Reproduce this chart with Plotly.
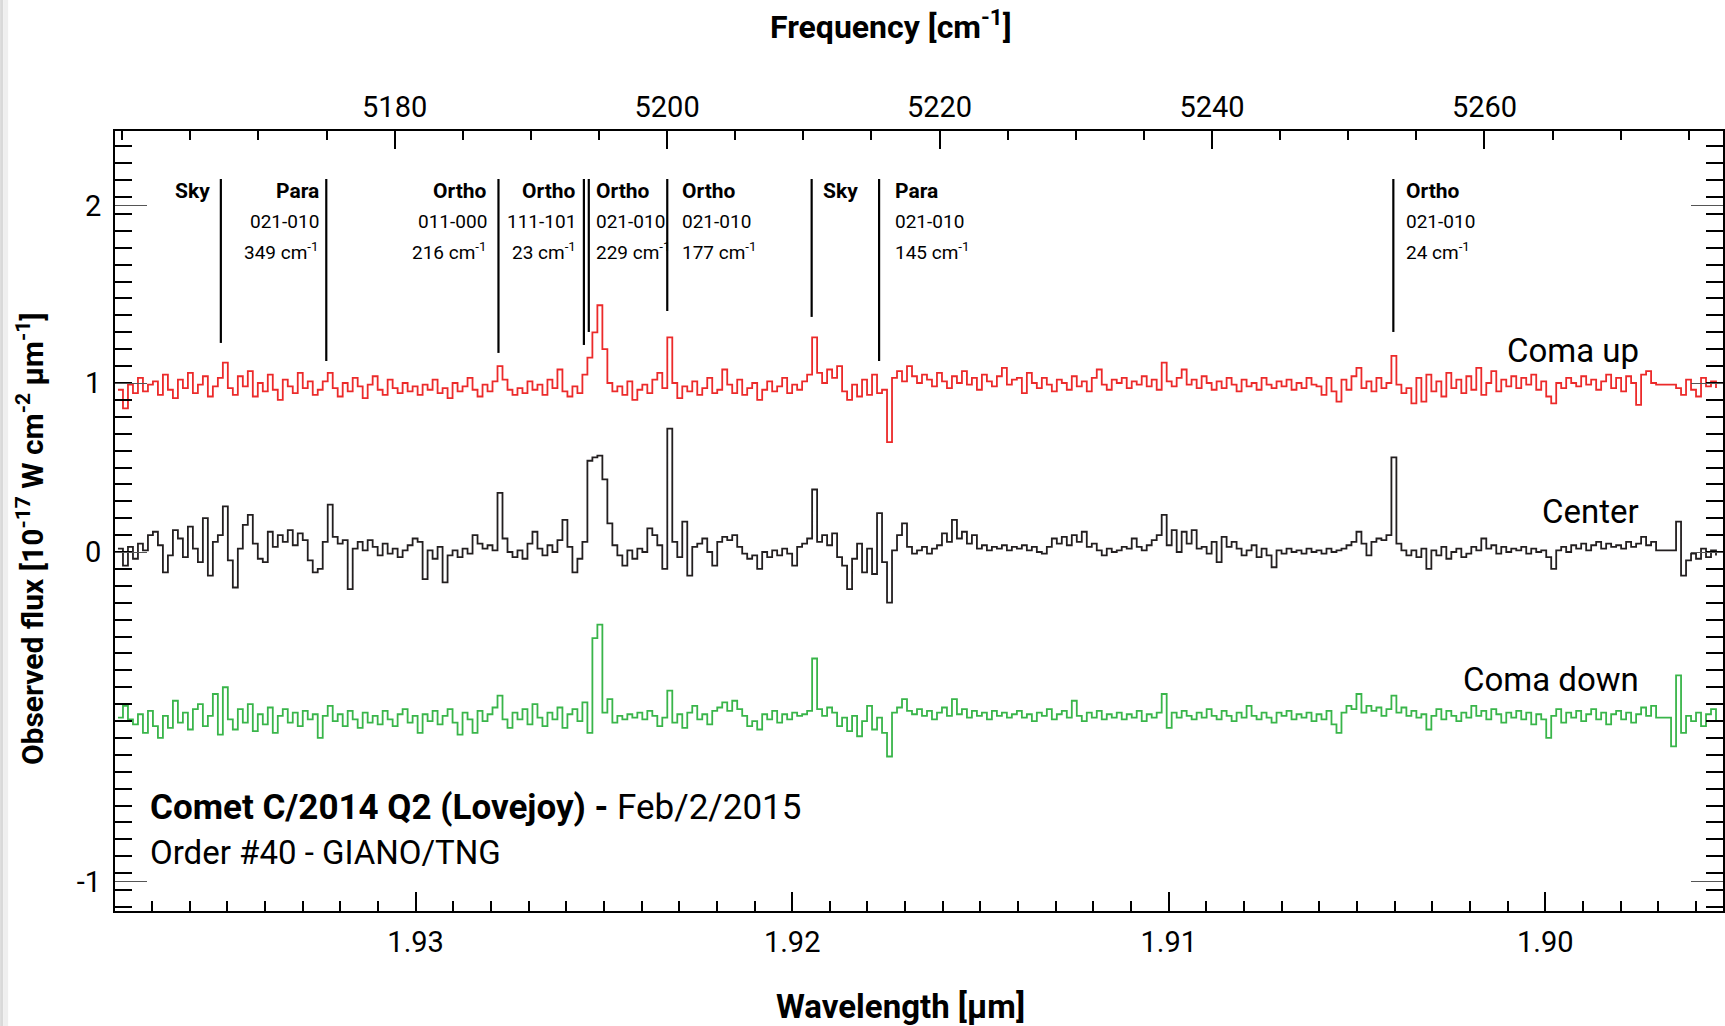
import numpy as np
import plotly.graph_objects as go

# ---------------- data ----------------
# spectra sampling grid (wavelength in micron, uniform pixel step)
wl_start = 1.937905
wl_step = -0.000132626

coma_up = [
    0.96, 0.85, 0.99, 0.94, 1.03, 0.95, 0.99, 1.01, 0.93, 1.05, 0.96, 0.91, 1.02, 0.97, 1.06, 0.94, 0.99, 1.04, 0.92, 0.98,
    1.03, 1.12, 0.97, 0.93, 1.04, 0.98, 1.07, 0.92, 1.00, 0.95, 1.05, 0.96, 0.90, 1.02, 0.98, 0.94, 1.06, 0.97, 1.01, 0.93,
    0.96, 1.01, 1.06, 0.97, 0.92, 1.00, 0.95, 1.03, 0.98, 0.91, 0.99, 1.04, 0.96, 0.93, 1.02, 0.97, 0.94, 1.00, 0.95, 0.98,
    0.93, 0.99, 0.96, 1.02, 0.94, 0.97, 0.91, 1.00, 0.95, 0.98, 1.03, 0.96, 0.92, 0.99, 0.95, 1.01, 1.10, 1.02, 0.96, 0.93,
    0.97, 0.94, 1.01, 0.96, 0.99, 0.93, 1.02, 0.97, 1.08, 0.95, 0.92, 0.98, 0.94, 1.05, 1.15, 1.30, 1.46, 1.20, 1.00, 0.95,
    0.98, 0.93, 1.01, 0.90, 0.96, 0.99, 0.94, 1.02, 1.06, 0.97, 1.27, 1.00, 0.91, 0.98, 0.95, 1.01, 0.93, 0.97, 1.03, 0.94,
    0.96, 1.08, 0.99, 0.94, 1.02, 0.93, 0.97, 1.00, 0.90, 0.96, 1.01, 0.95, 0.98, 1.03, 0.94, 0.99, 0.96, 1.01, 1.05, 1.27,
    1.06, 1.00, 1.08, 1.03, 1.10, 0.95, 0.90, 0.99, 0.92, 1.02, 0.93, 1.05, 0.94, 0.96, 0.65, 1.03, 1.07, 1.01, 1.10, 1.04,
    1.00, 1.05, 1.02, 0.98, 1.06, 1.01, 0.97, 1.04, 1.00, 1.07, 0.99, 1.03, 0.96, 1.05, 1.01, 0.98, 1.04, 1.09, 0.99, 1.02,
    1.03, 0.94, 1.06, 1.00, 0.97, 1.03, 0.99, 0.95, 1.02, 1.00, 0.96, 1.04, 0.98, 1.01, 0.95, 1.03, 1.08, 0.99, 0.96, 1.02,
    1.00, 1.03, 0.97, 1.01, 0.99, 1.04, 0.98, 1.02, 0.96, 1.12, 1.01, 0.98, 1.03, 1.08, 0.99, 1.02, 0.97, 1.04, 1.00, 0.96,
    1.01, 0.97, 1.03, 0.99, 0.95, 1.02, 0.98, 1.00, 0.96, 1.03, 0.99, 0.97, 1.01, 0.98, 1.02, 0.96, 1.00, 0.97, 1.03, 0.99,
    0.98, 0.93, 1.03, 0.95, 0.89, 1.02, 0.96, 1.04, 1.09, 0.97, 1.01, 0.95, 1.03, 0.97, 1.00, 1.16, 0.99, 0.94, 0.97, 0.88,
    1.03, 0.89, 1.05, 0.95, 1.01, 0.92, 1.06, 0.97, 1.02, 0.94, 1.04, 0.96, 1.09, 0.93, 1.00, 1.07, 0.95, 1.02, 0.98, 1.04,
    0.97, 1.03, 0.99, 1.05, 0.96, 1.01, 0.92, 0.88, 1.00, 0.97, 1.03, 1.00, 0.98, 1.04, 0.99, 1.02, 0.96, 1.01, 1.05, 0.97,
    1.03, 0.95, 1.04, 1.00, 0.87, 1.05, 1.07, 1.00, 0.99, 0.99, 0.99, 0.99, 0.97, 0.93, 1.02, 0.96, 0.92, 1.03, 0.98, 1.01, 0.97,
]

center = [
    0.02, -0.08, 0.03, -0.04, 0.05, 0.01, 0.10, 0.12, 0.04, -0.12, -0.02, 0.13, 0.08, -0.03, 0.15, 0.02, -0.06, 0.20, -0.14, 0.06,
    0.10, 0.27, -0.05, -0.21, 0.02, 0.16, 0.22, 0.05, -0.04, -0.06, 0.12, 0.03, 0.10, 0.06, 0.13, 0.04, 0.11, 0.07, -0.05, -0.12,
    -0.10, 0.06, 0.28, 0.09, 0.05, 0.07, -0.22, 0.02, 0.06, 0.01, 0.07, 0.03, -0.02, 0.05, -0.01, 0.02, -0.03, 0.01, 0.04, 0.08,
    0.06, -0.16, 0.01, -0.04, 0.03, -0.18, -0.02, 0.01, -0.03, 0.02, -0.01, 0.10, 0.05, 0.02, 0.04, 0.01, 0.35, 0.08, 0.00, -0.03,
    0.01, -0.04, 0.05, 0.12, 0.02, -0.02, 0.04, 0.00, 0.07, 0.19, 0.03, -0.12, -0.04, 0.06, 0.54, 0.56, 0.57, 0.43, 0.17, 0.04,
    -0.02, -0.08, 0.01, -0.04, 0.02, 0.00, 0.14, 0.10, 0.04, -0.10, 0.73, 0.06, -0.03, 0.18, -0.14, 0.03, 0.05, 0.08, 0.00, -0.08,
    0.06, 0.09, 0.07, 0.10, 0.03, -0.01, -0.04, -0.02, -0.10, 0.00, -0.03, 0.01, -0.02, 0.02, -0.01, -0.08, 0.03, 0.05, 0.08, 0.37,
    0.06, 0.10, 0.04, 0.11, -0.03, -0.08, -0.22, -0.04, 0.05, -0.12, 0.02, -0.13, 0.23, -0.06, -0.30, 0.01, 0.10, 0.17, 0.03, -0.01,
    0.01, 0.03, -0.01, 0.02, 0.04, 0.11, 0.06, 0.19, 0.08, 0.12, 0.05, 0.10, 0.02, 0.04, 0.01, 0.03, 0.02, 0.04, 0.01, 0.03,
    0.02, 0.04, 0.01, 0.03, 0.00, -0.01, 0.03, 0.08, 0.05, 0.09, 0.04, 0.10, 0.06, 0.12, 0.03, 0.05, 0.01, -0.02, 0.02, 0.00,
    0.01, 0.03, 0.02, 0.08, 0.03, 0.01, 0.04, 0.07, 0.10, 0.22, 0.04, 0.13, 0.00, 0.12, 0.05, 0.13, 0.02, 0.03, -0.01, 0.06,
    -0.06, 0.09, 0.03, 0.06, 0.02, -0.02, 0.01, 0.04, -0.03, 0.02, -0.02, -0.09, 0.01, -0.01, 0.02, 0.00, 0.01, -0.01, 0.02, 0.00,
    0.01, -0.01, 0.02, 0.00, 0.01, 0.02, 0.04, 0.06, 0.12, 0.05, -0.02, 0.06, 0.08, 0.07, 0.10, 0.56, 0.05, 0.01, -0.02, 0.01,
    -0.03, 0.02, -0.10, 0.01, -0.02, 0.03, -0.04, 0.00, 0.02, -0.03, -0.01, 0.03, 0.01, 0.08, 0.02, 0.04, -0.01, 0.03, 0.00, 0.02,
    0.01, 0.03, -0.01, 0.02, 0.00, 0.01, -0.03, -0.10, 0.01, 0.03, 0.00, 0.04, 0.02, 0.05, 0.01, 0.04, 0.06, 0.02, 0.05, 0.03,
    0.04, 0.02, 0.06, 0.03, 0.05, 0.09, 0.04, 0.06, 0.01, 0.01, 0.01, 0.01, 0.18, -0.14, -0.05, -0.01, -0.04, 0.02, -0.03, 0.01, -0.02,
]

coma_down = [
    -0.98, -0.91, -0.99, -1.02, -0.96, -1.07, -0.94, -1.03, -1.10, -0.97, -1.04, -0.88, -1.01, -0.95, -1.05, -0.93, -0.90, -1.03, -0.97, -0.84,
    -1.08, -0.80, -0.99, -1.05, -0.93, -1.01, -0.90, -1.06, -0.96, -1.02, -0.92, -1.07, -0.97, -0.93, -1.01, -0.95, -1.03, -0.94, -0.99, -0.96,
    -1.10, -0.97, -0.91, -1.00, -0.96, -1.03, -0.94, -0.99, -1.04, -0.95, -1.01, -0.97, -1.02, -0.94, -0.99, -1.03, -0.96, -0.93, -1.01, -0.97,
    -1.07, -0.96, -1.00, -0.94, -1.02, -0.97, -0.93, -1.01, -1.08, -0.95, -0.99, -1.07, -0.94, -1.00, -0.96, -0.92, -0.85, -0.99, -1.04, -0.95,
    -0.99, -0.93, -1.02, -0.90, -0.98, -1.03, -0.95, -0.99, -0.92, -1.04, -0.96, -0.93, -1.00, -0.89, -1.07, -0.51, -0.43, -0.95, -0.87, -1.01,
    -0.97, -0.99, -0.96, -0.98, -0.95, -0.99, -0.94, -0.97, -1.03, -0.98, -0.82, -1.01, -0.96, -1.04, -0.95, -0.91, -0.99, -0.96, -1.02, -0.94,
    -0.92, -0.89, -0.94, -0.88, -0.93, -0.97, -1.03, -1.00, -1.05, -0.96, -0.99, -0.94, -1.01, -0.96, -0.99, -0.95, -0.97, -0.96, -0.94, -0.63,
    -0.93, -0.97, -0.92, -0.95, -1.03, -0.98, -1.06, -0.97, -1.09, -1.00, -0.91, -1.05, -0.98, -1.07, -1.21, -0.95, -0.92, -0.87, -0.94, -0.96,
    -0.93, -0.97, -0.94, -0.99, -0.95, -0.92, -0.97, -0.87, -0.96, -0.93, -0.98, -0.94, -0.97, -0.95, -0.99, -0.94, -0.97, -0.95, -0.98, -0.96,
    -0.94, -0.98, -0.96, -1.00, -0.95, -0.97, -0.93, -0.99, -0.96, -0.94, -0.98, -0.88, -0.97, -1.00, -0.95, -0.98, -0.94, -0.99, -0.96, -0.98,
    -0.95, -0.99, -0.96, -0.98, -0.94, -1.00, -0.96, -0.98, -0.95, -0.84, -1.04, -0.95, -0.98, -0.94, -0.97, -0.99, -0.95, -0.98, -0.93, -0.97,
    -0.99, -0.94, -0.97, -1.00, -0.95, -0.98, -0.91, -0.97, -0.99, -0.95, -0.98, -1.01, -0.95, -0.97, -0.94, -0.99, -0.96, -0.98, -0.95, -1.00,
    -0.96, -0.99, -0.94, -1.02, -1.07, -0.95, -0.91, -0.93, -0.84, -0.95, -0.91, -0.94, -0.92, -0.97, -0.93, -0.85, -0.95, -0.92, -0.97, -0.94,
    -0.98, -0.96, -1.05, -0.97, -0.93, -0.99, -0.94, -0.97, -1.00, -0.95, -0.98, -0.91, -0.97, -0.94, -0.99, -0.93, -0.96, -1.01, -0.95, -0.98,
    -0.94, -0.99, -0.95, -1.02, -0.96, -0.99, -1.10, -0.97, -0.93, -1.01, -0.95, -0.98, -0.94, -1.00, -0.96, -0.93, -0.99, -0.95, -1.02, -0.96,
    -0.94, -0.99, -0.95, -1.01, -0.96, -0.92, -0.97, -0.91, -0.98, -0.98, -0.98, -1.15, -0.73, -1.07, -0.97, -1.00, -0.95, -1.03, -0.96, -0.93, -1.00,
]

series_names = ["Coma up", "Center", "Coma down"]

# identified lines (frequency, cm-1)
line_species = ["Sky", "Para", "Ortho", "Ortho", "Ortho", "Ortho", "Sky", "Para", "Ortho"]
line_band = ["", "021-010", "011-000", "111-101", "021-010", "021-010", "", "021-010", "021-010"]
line_energy = [None, 349, 216, 23, 229, 177, None, 145, 24]
line_freq = [5167.24, 5174.98, 5187.62, 5193.89, 5194.25, 5200.01, 5210.61, 5215.56, 5253.31]

# axis ticks
wl_ticks = [1.93, 1.92, 1.91, 1.90]
freq_ticks = [5180, 5200, 5220, 5240, 5260]
flux_ticktext = ["2", "1", "0", "-1"]

# ---------------- styling ----------------
FONT = "Roboto, sans-serif"
COLORS = ["#EC2A2A", "#231F20", "#39B54A"]
flux_tickpos = [2.05, 1, 0, -1.95]
label_side = ["left", "left", "left", "left", "right", "right", "right", "right", "right"]
label_gap = [9, 5, 9, 6, 5, 13, 9, 14, 11]
row_y = [2.136, 1.953, 1.776]
marker_bottom = [1.237, 1.130, 1.178, 1.225, 1.302, 1.426, 1.391, 1.130, 1.302]
marker_top = 2.207
label_y = [1.195, 0.237, -0.757]

n = len(center)
assert len(coma_up) == n and len(coma_down) == n
wavelength = wl_start + wl_step * np.arange(n)

fig = go.Figure()
for name, vals, col in zip(series_names, [coma_up, center, coma_down], COLORS):
    fig.add_trace(go.Scatter(x=wavelength, y=vals, mode="lines", name=name,
                             line=dict(color=col, width=1.8, shape="hv"),
                             xaxis="x", yaxis="y", showlegend=False))

mx, my = [], []
for f, b in zip(line_freq, marker_bottom):
    mx += [f, f, None]
    my += [marker_top, b, None]
fig.add_trace(go.Scatter(x=mx, y=my, mode="lines", line=dict(color="black", width=2.2),
                         xaxis="x2", yaxis="y", showlegend=False, hoverinfo="skip"))

annotations = []
for sp, band, en, f, side, gap in zip(line_species, line_band, line_energy, line_freq, label_side, label_gap):
    rows = [(f"<b>{sp}</b>", 21)]
    if band:
        rows += [(band, 19), (f"{en} cm<sup>-1</sup>", 19)]
    for (txt, fs), yv in zip(rows, row_y):
        annotations.append(dict(
            x=f, xref="x2", y=yv, yref="y", text=txt, showarrow=False,
            xanchor="right" if side == "left" else "left", yanchor="middle",
            xshift=-gap if side == "left" else gap,
            font=dict(family=FONT, size=fs, color="black")))

for name, yv in zip(series_names, label_y):
    annotations.append(dict(x=0.9466, xref="paper", y=yv, yref="y", text=name,
                            showarrow=False, xanchor="right", yanchor="middle", xshift=4,
                            font=dict(family=FONT, size=33, color="black")))

annotations.append(dict(x=0.0205, xref="paper", y=0.1321, yref="paper",
                        text="<b>Comet C/2014 Q2 (Lovejoy) -</b> Feb/2/2015",
                        showarrow=False, xanchor="left", yanchor="middle",
                        font=dict(family=FONT, size=35, color="black")))
annotations.append(dict(x=0.0205, xref="paper", y=0.0744, yref="paper",
                        text="Order #40 - GIANO/TNG",
                        showarrow=False, xanchor="left", yanchor="middle",
                        font=dict(family=FONT, size=33, color="black")))

# axis titles (placed where the reference has them)
annotations.append(dict(x=0.4826, xref="paper", y=1.1355, yref="paper",
                        text="<b>Frequency [cm<sup>-1</sup>]</b>", showarrow=False,
                        xanchor="center", yanchor="middle",
                        font=dict(family=FONT, size=32, color="black")))
annotations.append(dict(x=0.4888, xref="paper", y=-0.123, yref="paper",
                        text="<b>Wavelength [µm]</b>", showarrow=False,
                        xanchor="center", yanchor="middle",
                        font=dict(family=FONT, size=33, color="black")))
annotations.append(dict(x=-0.0528, xref="paper", y=0.4769, yref="paper",
                        text="<b>Observed flux [10<sup>-17</sup> W cm<sup>-2</sup> µm<sup>-1</sup>]</b>",
                        showarrow=False, textangle=-90, xanchor="center", yanchor="middle",
                        font=dict(family=FONT, size=30, color="black")))

tickfont = dict(family=FONT, size=29, color="black")

shapes = [
    dict(type="rect", xref="paper", yref="paper", x0=-115 / 1610, x1=-112 / 1610, y0=-0.2, y1=1.2,
         line=dict(width=0), fillcolor="#d9d9d9", layer="below"),
    dict(type="rect", xref="paper", yref="paper", x0=-112 / 1610, x1=-107 / 1610, y0=-0.2, y1=1.2,
         line=dict(width=0), fillcolor="#efefef", layer="below"),
]

fig.update_layout(
    width=1725, height=1026, autosize=False,
    margin=dict(l=115, r=0, t=131, b=115),
    paper_bgcolor="white", plot_bgcolor="white",
    font=dict(family=FONT, color="black"),
    annotations=annotations, shapes=shapes,
    xaxis=dict(
        range=[1.937984, 1.895279], tickvals=wl_ticks,
        ticktext=[f"{v:.2f}" for v in wl_ticks],
        ticks="inside", ticklen=19, tickwidth=1.5, tickcolor="black",
        minor=dict(tickmode="linear", tick0=1.9, dtick=0.001, ticks="inside",
                   ticklen=10, tickwidth=1.5, tickcolor="black"),
        showline=True, linewidth=2, linecolor="black", mirror=False,
        showgrid=False, zeroline=False, tickfont=tickfont, ticklabelstandoff=4,
    ),
    xaxis2=dict(
        overlaying="x", side="top", anchor="y",
        range=[5159.47, 5277.51], tickvals=freq_ticks,
        ticks="inside", ticklen=18, tickwidth=1.5, tickcolor="black",
        minor=dict(tickmode="linear", tick0=5180, dtick=5, ticks="inside",
                   ticklen=9, tickwidth=1.5, tickcolor="black"),
        showline=True, linewidth=2, linecolor="black",
        showgrid=False, zeroline=False, tickfont=tickfont, ticklabelstandoff=0,
    ),
    yaxis=dict(
        range=[-2.124, 2.491], tickvals=flux_tickpos, ticktext=flux_ticktext,
        ticks="inside", ticklen=32, tickwidth=1, tickcolor="#555555",
        minor=dict(tickmode="linear", tick0=0, dtick=0.1, ticks="inside",
                   ticklen=17, tickwidth=2, tickcolor="black"),
        showline=True, linewidth=2, linecolor="black", mirror="ticks",
        showgrid=False, zeroline=False, tickfont=tickfont, ticklabelstandoff=6,
    ),
)

fig.write_html("out.html")
